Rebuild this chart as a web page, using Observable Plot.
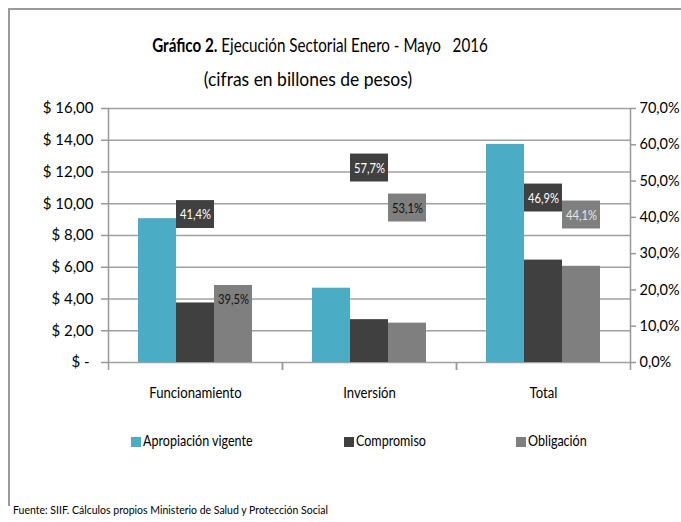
<!DOCTYPE html>
<html>
<head>
<meta charset="utf-8">
<script src="https://cdn.jsdelivr.net/npm/d3@7"></script>
<script src="https://cdn.jsdelivr.net/npm/@observablehq/plot@0.6"></script>
<style>
  html, body { margin: 0; padding: 0; background: #fff; }
  #page { position: relative; width: 681px; height: 522px; overflow: hidden; background: #fff;
          font-family: Lato, "DejaVu Sans Condensed", sans-serif; color: #000; }
  #frame { position: absolute; left: 8px; top: 8px; width: 700px; height: 496px;
           border-top: 2px solid #9a9a9a; border-left: 2px solid #9a9a9a; }
  .title { position: absolute; text-align: center; white-space: pre; line-height: 24px; }
  #t1 { top: 33px; left: 0; width: 640px; font-size: 19px; transform: scaleX(0.80); transform-origin: 320px 0; }
  #t2 { top: 66px; left: 0; width: 616px; font-size: 20px; transform: scaleX(0.874); transform-origin: 308px 0; }
  #chart { position: absolute; left: 0; top: 90px; }
  .leg { position: absolute; top: 431px; font-size: 15px; line-height: 18px; white-space: nowrap; }
  .sw { display: inline-block; width: 10px; height: 10px; margin-right: 2px; vertical-align: -1px; }
  .lt { display: inline-block; transform: scaleX(0.835); transform-origin: 0 0; }
  #cap { position: absolute; left: 13px; top: 502px; font-size: 12px; white-space: nowrap; transform: scaleX(0.875); transform-origin: 0 0; }
</style>
</head>
<body>
<div id="page">
  <div id="frame"></div>
  <div class="title" id="t1"><b>Gráfico 2.</b> Ejecución Sectorial Enero - Mayo   2016</div>
  <div class="title" id="t2">(cifras en billones de pesos)</div>
  <div id="chart"></div>
  <div id="legend"></div>
  <div id="cap">Fuente: SIIF. Cálculos propios Ministerio de Salud y Protección Social</div>
</div>
<script>
// ---- data ----
const categories = ["Funcionamiento", "Inversión", "Total"];
const series = ["Apropiación vigente", "Compromiso", "Obligación"];
const apropiacion = [9.06, 4.68, 13.74];
const compromiso = [3.75, 2.70, 6.45];
const obligacion = [3.58, 2.48, 6.06];
const pctCompromiso = [41.4, 57.7, 46.9];
const pctObligacion = [39.5, 53.1, 44.1];
// where each percentage box sits (in billions, left-axis units)
const labelAtCompromiso = [9.32, 12.25, 10.36];
const labelAtObligacion = [3.97, 9.73, 9.29];
const leftTicks = [0, 2, 4, 6, 8, 10, 12, 14, 16];
const rightTicks = [0, 10, 20, 30, 40, 50, 60, 70];

// ---- styles ----
const colors = ["#4BACC6", "#404040", "#7F7F7F"];
const labelInk = { "Compromiso": ["#ffffff", "#ffffff", "#ffffff"], "Obligación": ["#111111", "#111111", "#e6e6e6"] };
const FONT = 'Lato, "DejaVu Sans Condensed", sans-serif';
const W = 681, H = 320, ML = 108, MR = 51, MT = 18, MB = 48;
const facetW = (W - ML - MR) / categories.length;
const yMax = 16, pctMax = 70;

// ---- tables ----
const values = [apropiacion, compromiso, obligacion];
const bars = [];
categories.forEach((c, i) => series.forEach((s, j) => bars.push({category: c, series: s, value: values[j][i]})));
const labels = [];
categories.forEach((c, i) => {
  labels.push({category: c, series: series[1], pct: pctCompromiso[i], at: labelAtCompromiso[i], ink: labelInk["Compromiso"][i]});
  labels.push({category: c, series: series[2], pct: pctObligacion[i], at: labelAtObligacion[i], ink: labelInk["Obligación"][i]});
});
const fmtPct = p => p.toFixed(1).replace(".", ",") + "%";
const boxHalf = 0.88;
const inks = [...new Set(labels.map(d => d.ink))];

const chart = Plot.plot({
  width: W, height: H,
  marginLeft: ML, marginRight: MR, marginTop: MT, marginBottom: MB,
  style: {fontFamily: FONT, fontSize: "15px", color: "#000", background: "transparent", overflow: "visible"},
  fx: {domain: categories, padding: 0, label: null},
  x: {domain: series, paddingInner: 0, paddingOuter: 0.76, axis: null},
  y: {domain: [0, yMax], label: null},
  color: {domain: series, range: colors},
  marks: [
    Plot.gridY(leftTicks, {stroke: "#a0a0a0", strokeOpacity: 1, strokeWidth: 1.5}),
    Plot.barY(bars, {fx: "category", x: "series", y: "value", fill: "series"}),
    Plot.barY(labels, {fx: "category", x: "series", y1: d => d.at - boxHalf, y2: d => d.at + boxHalf, fill: "series"}),
    ...inks.map(ink => Plot.text(labels.filter(d => d.ink === ink), {
      fx: "category", x: "series", y: "at", text: d => fmtPct(d.pct), fill: ink, fontSize: 14
    })),
    Plot.axisY({ticks: leftTicks, anchor: "left", tickSize: 7, tickPadding: 8, stroke: "#999", strokeWidth: 1.5, fontSize: 15,
      tickFormat: d => d === 0 ? "$ -\u00a0" : "$ " + d.toFixed(2).replace(".", ",")}),
    Plot.axisY({ticks: rightTicks.map(p => p * yMax / pctMax), anchor: "right", tickSize: 5, tickPadding: 4, stroke: "#999", strokeWidth: 1.5, fontSize: 14.5,
      tickFormat: d => fmtPct(Math.round(d * pctMax / yMax))}),
    Plot.frame({anchor: "left", facetAnchor: "left", stroke: "#999", strokeWidth: 1.5}),
    Plot.frame({anchor: "right", facetAnchor: "right", stroke: "#999", strokeWidth: 1.5}),
    Plot.axisFx({anchor: "bottom", tickSize: 0, tickPadding: 25, fontSize: 15, label: null}),
    Plot.axisFx({anchor: "bottom", tickSize: 8, tickPadding: 0, dx: -facetW / 2, tickFormat: () => "", label: null, stroke: "#999", strokeWidth: 1.5}),
    Plot.axisFx({anchor: "bottom", tickSize: 8, tickPadding: 0, dx: facetW / 2, tickFormat: () => "", label: null, stroke: "#999", strokeWidth: 1.5})
  ]
});

// condense some SVG texts horizontally (the reference font is narrow):
// append a scaleX to each text's own transform, compensating a numeric x attribute
function condense(selector, s) {
  chart.querySelectorAll(selector).forEach(t => {
    const tr = t.getAttribute("transform") || "";
    t.setAttribute("transform", `${tr} scale(${s},1)`);
    const x = t.getAttribute("x");
    if (x !== null && isFinite(+x)) t.setAttribute("x", +x / s);
  });
}
condense('g[aria-label="fx-axis tick label"] text', 0.875);
condense('g[aria-label="text"] text', 0.8);
document.getElementById("chart").appendChild(chart);

// ---- legend ----
const legendLeft = [131, 344, 516];
const legend = document.getElementById("legend");
series.forEach((s, i) => {
  const el = document.createElement("div");
  el.className = "leg";
  el.style.left = legendLeft[i] + "px";
  el.innerHTML = `<span class="sw" style="background:${colors[i]}"></span><span class="lt">${s}</span>`;
  legend.appendChild(el);
});
</script>
</body>
</html>
